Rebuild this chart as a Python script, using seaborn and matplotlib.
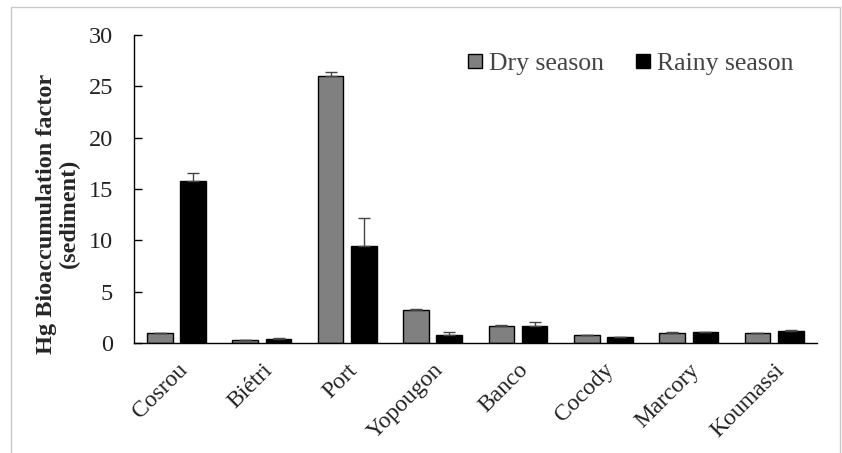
import numpy as np
import pandas as pd
import matplotlib
matplotlib.use('Agg')
import matplotlib.pyplot as plt
import seaborn as sns
from matplotlib.lines import Line2D
from matplotlib.patches import Rectangle

# Values
sites = ['Cosrou', 'Biétri', 'Port', 'Yopougon', 'Banco', 'Cocody', 'Marcory', 'Koumassi']
dry = [0.92, 0.26, 25.97, 3.25, 1.66, 0.78, 1.00, 0.97]
rainy = [15.8, 0.43, 9.4, 0.82, 1.60, 0.58, 1.04, 1.14]
dry_err = [0.05, 0.03, 0.40, 0.10, 0.05, 0.03, 0.03, 0.03]
rainy_err = [0.70, 0.07, 2.80, 0.25, 0.40, 0.03, 0.03, 0.08]
seasons = ['Dry season', 'Rainy season']

df = pd.DataFrame({
    'site': sites * 2,
    'season': [seasons[0]] * len(sites) + [seasons[1]] * len(sites),
    'value': dry + rainy,
})

sns.set_style('white')
plt.rcParams['font.family'] = ['Liberation Serif', 'DejaVu Serif']

fig = plt.figure(figsize=(8.42, 4.53), dpi=100)
ax = fig.add_axes([0.159, 0.243, 0.811, 0.680])

palette = {'Dry season': '#808080', 'Rainy season': '#000000'}
sns.barplot(data=df, x='site', y='value', hue='season', palette=palette,
            width=0.78, gap=0.23, edgecolor='black', linewidth=1.0,
            errorbar=None, legend=False, ax=ax)

# upper-only error bars
for cont, err in zip(ax.containers, [dry_err, rainy_err]):
    xs = [p.get_x() + p.get_width() / 2 for p in cont]
    ys = [p.get_height() for p in cont]
    ax.errorbar(xs, ys, yerr=[np.zeros(len(err)), err], fmt='none',
                ecolor='#444444', elinewidth=1.0, capsize=4, capthick=1.0)

ax.set_ylim(0, 30)
ax.set_xlim(-0.5, len(sites) - 0.5)
ax.set_yticks(range(0, 31, 5))
ax.set_xlabel('')
ax.set_ylabel('Hg Bioaccumulation factor\n(sediment)', fontsize=17.5,
              fontweight='bold', linespacing=1.1)
ax.yaxis.set_label_coords(-0.079, 0.42)
ax.tick_params(axis='y', direction='in', length=6, width=1, labelsize=17.5,
               colors='black', left=True, pad=15)
ax.tick_params(axis='x', length=0, labelsize=17, pad=12)
plt.setp(ax.get_xticklabels(), rotation=45, ha='right', rotation_mode='anchor',
         color='#222222')
plt.setp(ax.get_yticklabels(), color='#222222')

for side in ['top', 'right']:
    ax.spines[side].set_visible(False)
for side in ['left', 'bottom']:
    ax.spines[side].set_color('black')
    ax.spines[side].set_linewidth(1.0)

handles = [Line2D([], [], marker='s', linestyle='none', markersize=10,
                  markerfacecolor=palette[s], markeredgecolor='black', label=s)
           for s in seasons]
ax.legend(handles=handles, loc='upper right', bbox_to_anchor=(1.0, 1.02),
          ncol=2, frameon=False, fontsize=18.5, handletextpad=0.15,
          columnspacing=1.1, handlelength=0.8, labelcolor='#444444')

# light border around the whole picture
fig.patches.append(Rectangle((11 / 842, -0.01), (840 - 11) / 842, (453 - 7) / 453 + 0.01,
                             transform=fig.transFigure, fill=False,
                             edgecolor='#c8c8c8', linewidth=1.0))

fig.savefig('out.png', dpi=100)
